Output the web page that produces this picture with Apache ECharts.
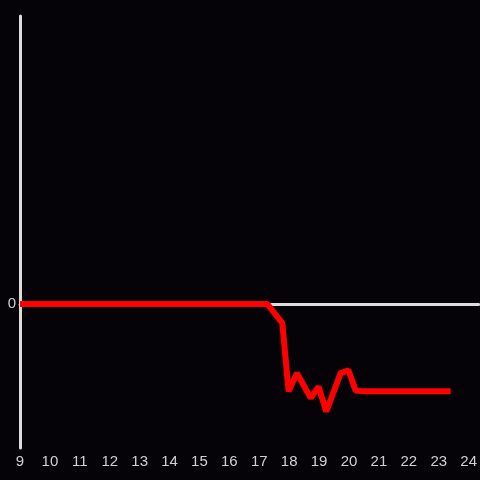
<!DOCTYPE html>
<html>
<head>
<meta charset="utf-8">
<script src="https://cdn.jsdelivr.net/npm/echarts@6/dist/echarts.min.js"></script>
<style>
  html, body { margin: 0; padding: 0; background: #050307; }
  #main { width: 480px; height: 480px; }
</style>
</head>
<body>
<div id="main"></div>
<script>
  // hour of day (x) and value (y)
  var hours = [9, 17.27, 17.77, 17.98, 18.26, 18.72, 18.98, 19.24, 19.72, 19.98, 20.22, 20.5, 23.4];
  var values = [0, 0, -0.2, -0.91, -0.72, -0.98, -0.86, -1.12, -0.72, -0.69, -0.9, -0.91, -0.91];
  var yTicks = [0];

  var points = hours.map(function (h, i) { return [h, values[i]]; });

  var labelStyle = { color: '#d0d0d0', fontSize: 15, fontFamily: 'Liberation Sans' };

  var option = {
    backgroundColor: '#050307',
    animation: false,
    grid: { left: 20, right: 0, top: 16, bottom: 32 },
    xAxis: [{
      // line drawn through zero
      type: 'value',
      min: 9,
      max: 24 + 1 / 3,
      interval: 1,
      axisLine: { onZero: true, lineStyle: { color: '#dcdcdc', width: 3 } },
      axisTick: { show: false },
      axisLabel: { show: false },
      splitLine: { show: false }
    }, {
      // labels along the bottom
      type: 'value',
      position: 'bottom',
      min: 9,
      max: 24 + 1 / 3,
      interval: 1,
      axisLine: { show: false },
      axisTick: { show: false },
      splitLine: { show: false },
      axisLabel: Object.assign({
        margin: 6,
        showMaxLabel: false,
        formatter: function (v) { return Number.isInteger(v) ? String(v) : ''; }
      }, labelStyle)
    }],
    yAxis: {
      type: 'value',
      min: -1.5,
      max: 3,
      interval: 1.5,
      axisLine: { show: true, onZero: false, lineStyle: { color: '#dcdcdc', width: 3 } },
      axisTick: { show: false },
      splitLine: { show: false },
      axisLabel: Object.assign({
        margin: 4,
        padding: [4, 0, 0, 0],
        formatter: function (v) { return yTicks.indexOf(v) >= 0 ? String(v) : ''; }
      }, labelStyle)
    },
    series: [{
      type: 'line',
      xAxisIndex: 0,
      data: points,
      showSymbol: false,
      lineStyle: { color: '#ff0000', width: 6 },
      z: 5
    }]
  };

  echarts.init(document.getElementById('main')).setOption(option);
</script>
</body>
</html>
